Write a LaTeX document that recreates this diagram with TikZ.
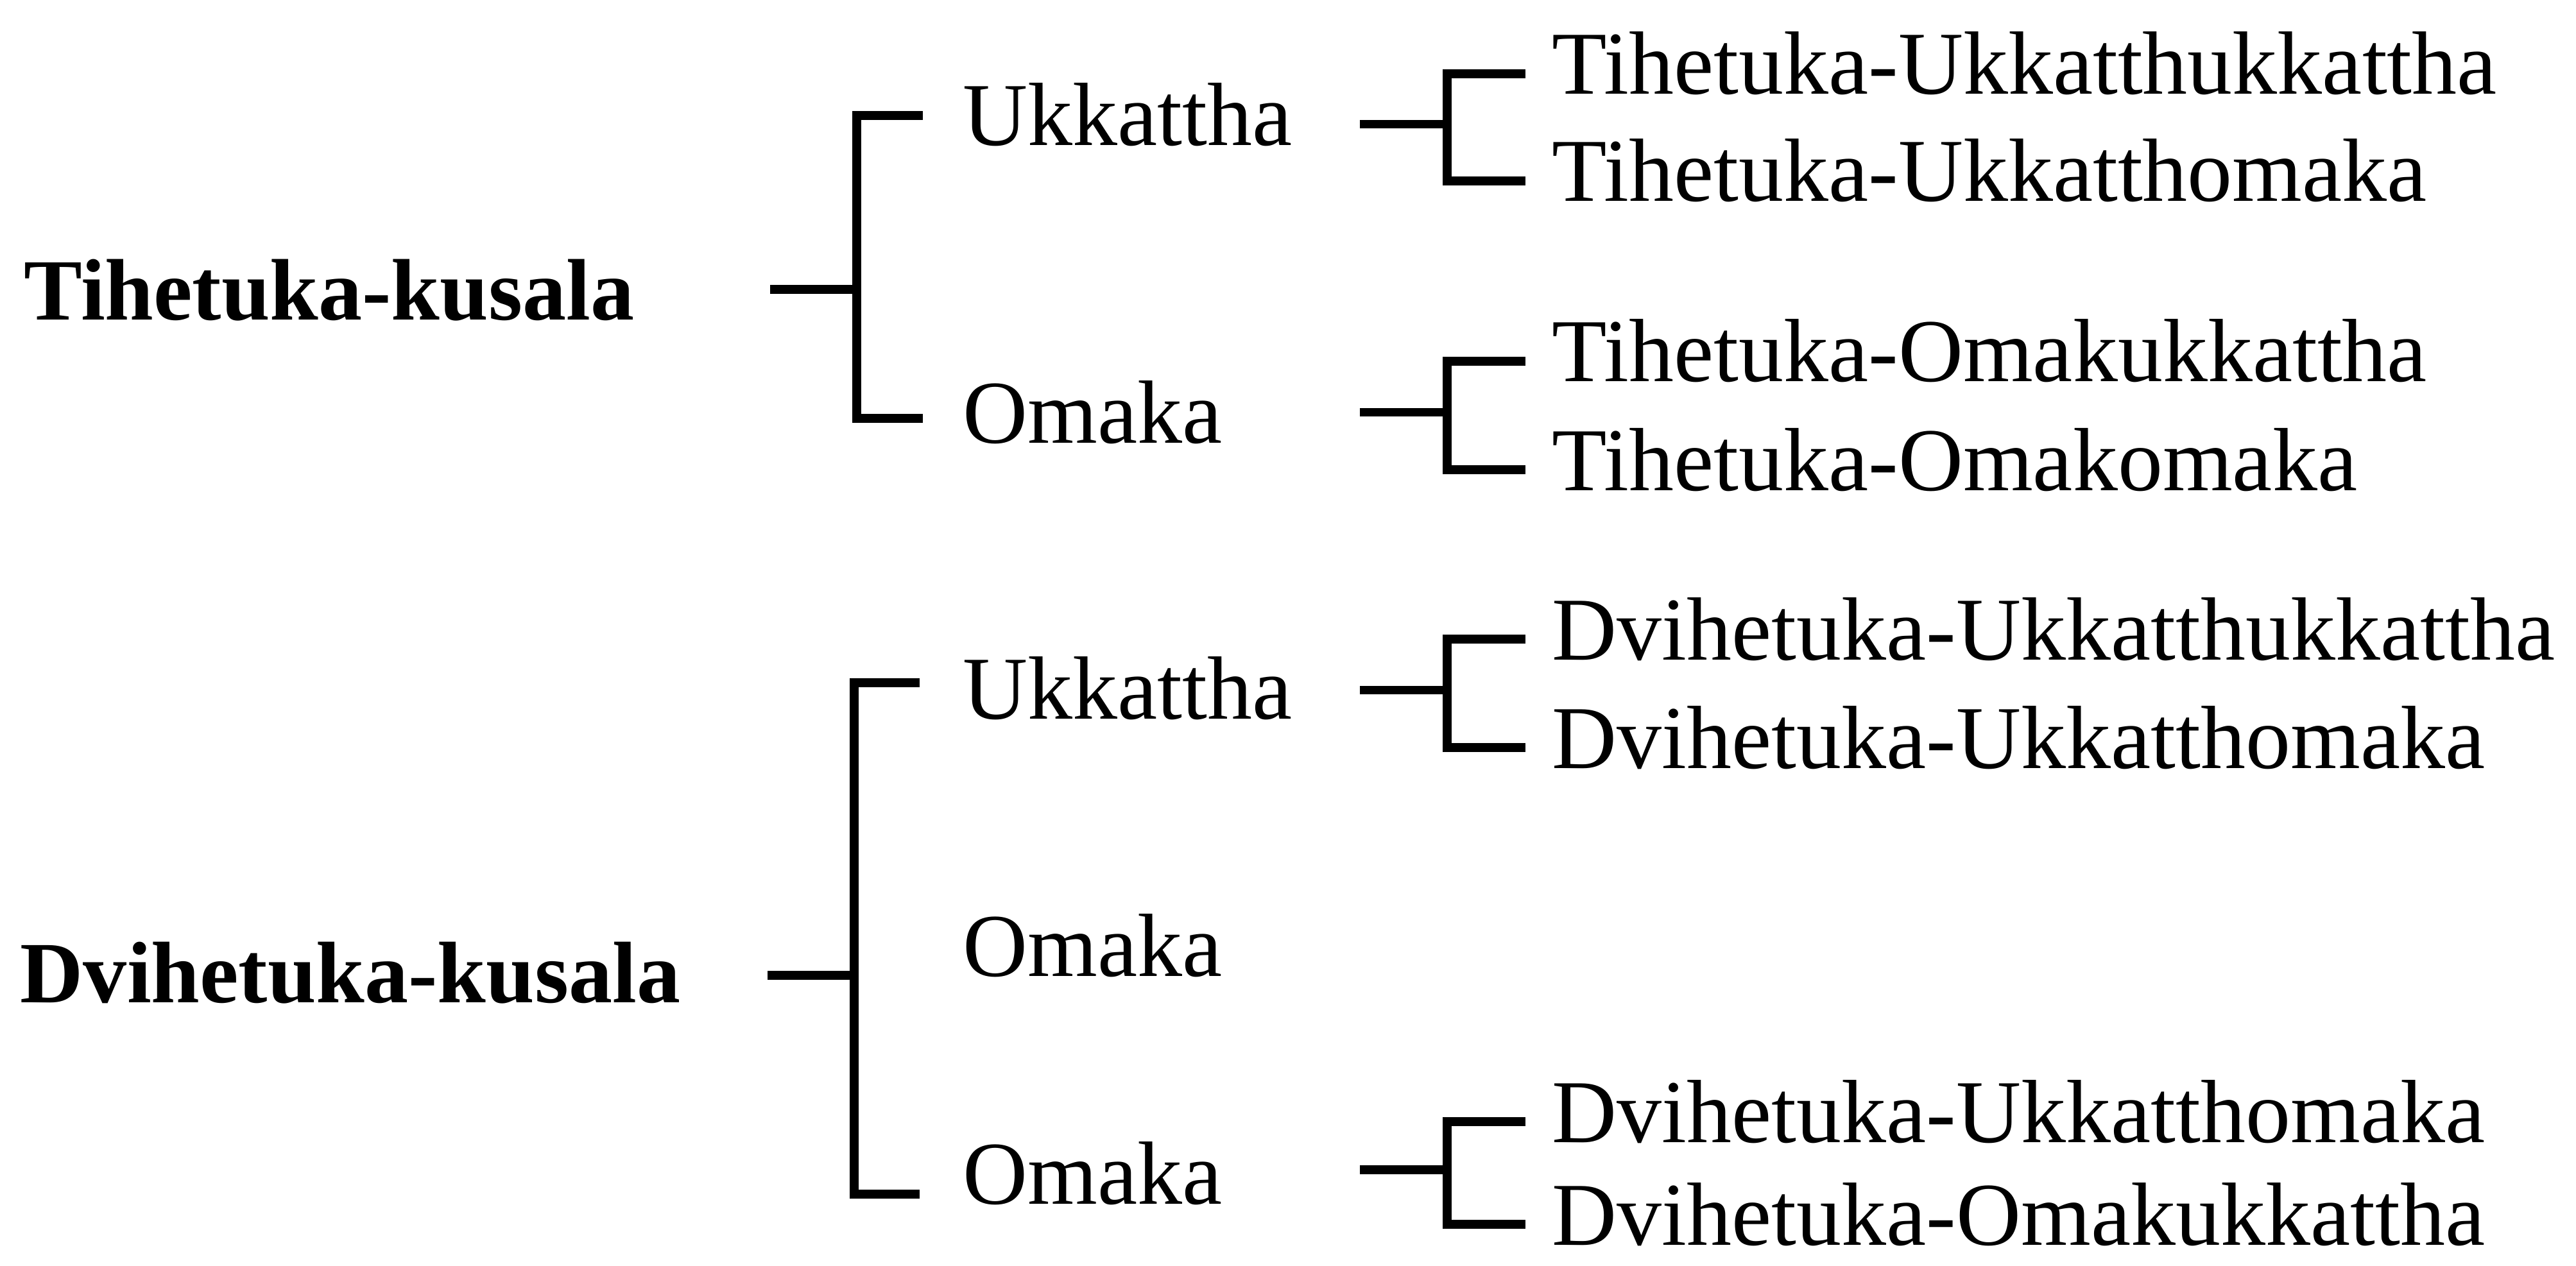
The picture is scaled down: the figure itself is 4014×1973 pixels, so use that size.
\documentclass[tikz,border=0pt]{standalone}
\usepackage{fontspec}
\setmainfont{Liberation Serif}
\usetikzlibrary{calc}
\tikzset{
  kind/.style={font=\bfseries\fontsize{38.7}{44}\selectfont, anchor=base west, inner sep=0pt},
  grade/.style={font=\fontsize{39.8}{46}\selectfont, anchor=base west, inner sep=0pt},
  sub/.style={font=\fontsize{39.8}{46}\selectfont, anchor=base west, inner sep=0pt},
  br/.style={line width=3.9pt, line join=miter, line cap=butt}
}

\begin{document}
\begin{tikzpicture}[x=0.01cm, y=-0.01cm]
	\useasboundingbox (0,0) rectangle (4014,1973);

	% kusala kinds
	\node[kind] (tk) at (37,499) {Tihetuka-kusala};
	\node[kind] (dk) at (31,1562) {Dvihetuka-kusala};

	% grades
	\node[grade] (tu) at (1500,227) {Ukkattha};
	\node[grade] (to) at (1500,690) {Omaka};
	\node[grade] (du) at (1500,1120) {Ukkattha};
	\node[grade] (dm) at (1500,1521) {Omaka};
	\node[grade] (do) at (1500,1876) {Omaka};

	% sub-grades
	\node[sub] (tuu) at (2418,147) {Tihetuka-Ukkatthukkattha};
	\node[sub] (tuo) at (2418,314) {Tihetuka-Ukkatthomaka};
	\node[sub] (tou) at (2418,595) {Tihetuka-Omakukkattha};
	\node[sub] (too) at (2418,764) {Tihetuka-Omakomaka};
	\node[sub] (duu) at (2418,1028) {Dvihetuka-Ukkatthukkattha};
	\node[sub] (duo) at (2418,1197) {Dvihetuka-Ukkatthomaka};
	\node[sub] (dou) at (2418,1780) {Dvihetuka-Ukkatthomaka};
	\node[sub] (doo) at (2418,1940) {Dvihetuka-Omakukkattha};

	% first brackets
	\coordinate (jt) at (1335,451);
	\coordinate (st) at (1200,451);
	\coordinate (jd) at (1331,1520);
	\coordinate (sd) at (1196,1520);
	\draw[br] ($(tu.base west)+(-62,-47)$) -| (jt) |- ($(to.base west)+(-62,-38)$);
	\draw[br] (st) -- (jt);
	\draw[br] ($(du.base west)+(-67,-56)$) -| (jd) |- ($(do.base west)+(-67,-15)$);
	\draw[br] (sd) -- (jd);

	% second brackets
	\foreach \a/\b in {tuu/tuo, tou/too, duu/duo, dou/doo}{
		\coordinate (j\a) at ($(\a.base west)!0.5!(\b.base west)+(-163,-37)$);
		\coordinate (s\a) at ($(j\a)+(-136,0)$);
		\draw[br] ($(\a.base west)+(-41,-32)$) -| (j\a) |- ($(\b.base west)+(-41,-32)$);
		\draw[br] (s\a) -- (j\a);
	}
\end{tikzpicture}
\end{document}
